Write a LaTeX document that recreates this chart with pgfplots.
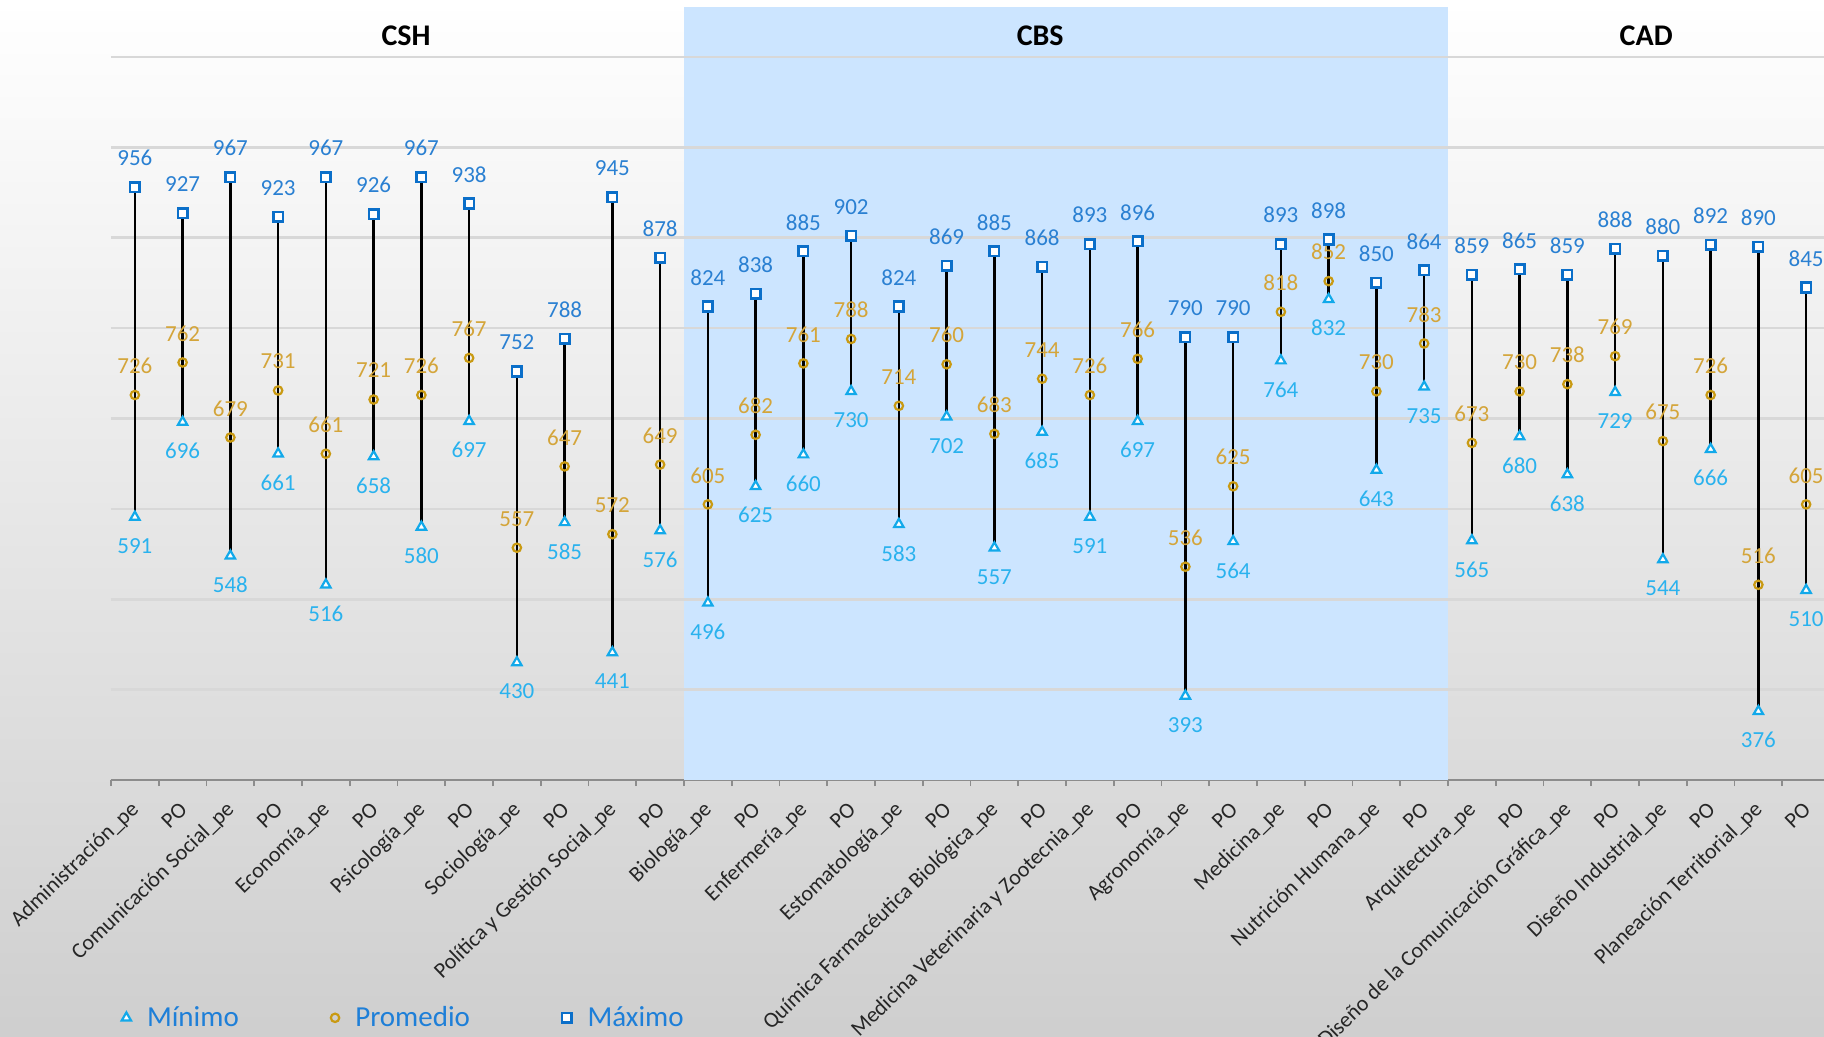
\documentclass[border=0pt]{standalone}
\usepackage{fontspec}
\setmainfont{Carlito}
\usepackage{pgfplots}
\usepackage{pgfplotstable}
\pgfplotsset{compat=1.18}
\usetikzlibrary{backgrounds}

\definecolor{minc}{HTML}{12A9EA}
\definecolor{avgc}{HTML}{C99A12}
\definecolor{maxc}{HTML}{0B6FC9}
\definecolor{minlab}{HTML}{2AB2EE}
\definecolor{avglab}{HTML}{D4A53A}
\definecolor{maxlab}{HTML}{2A80D2}
\definecolor{legtxt}{HTML}{1E7FD8}
\definecolor{cbs}{HTML}{CCE5FF}
\definecolor{gridc}{HTML}{D8D8D8}
\definecolor{axisc}{HTML}{8C8C8C}

\newcommand{\lab}{\fontsize{11.5}{13}\selectfont}

% x = posicion, min / promedio / max
\pgfplotstableread{
x min avg max
1 591 726 956
2 696 762 927
3 548 679 967
4 661 731 923
5 516 661 967
6 658 721 926
7 580 726 967
8 697 767 938
9 430 557 752
10 585 647 788
11 441 572 945
12 576 649 878
13 496 605 824
14 625 682 838
15 660 761 885
16 730 788 902
17 583 714 824
18 702 760 869
19 557 683 885
20 685 744 868
21 591 726 893
22 697 766 896
23 393 536 790
24 564 625 790
25 764 818 893
26 832 852 898
27 643 730 850
28 735 783 864
29 565 673 859
30 680 730 865
31 638 738 859
32 729 769 888
33 544 675 880
34 666 726 892
35 376 516 890
36 510 605 845
}\datos

\begin{document}
\begin{tikzpicture}
\begin{axis}[
name=ax,
scale only axis,
width=859.5pt, height=388.6pt,
xmin=0.5, xmax=36.5, ymin=300, ymax=1160,
clip=false,
axis x line*=bottom,
hide y axis,
x axis line style={axisc, line width=1pt},
xtick={1,...,36},
major tick length=0pt,
minor xtick={0.5,1.5,...,36.5},
minor tick length=3pt,
tick align=outside,
minor tick style={axisc, line width=0.9pt},
xticklabels={Administración\_pe, PO, Comunicación Social\_pe, PO, Economía\_pe, PO, Psicología\_pe, PO, Sociología\_pe, PO, Política y Gestión Social\_pe, PO, Biología\_pe, PO, Enfermería\_pe, PO, Estomatología\_pe, PO, Química Farmacéutica Biológica\_pe, PO, Medicina Veterinaria y Zootecnia\_pe, PO, Agronomía\_pe, PO, Medicina\_pe, PO, Nutrición Humana\_pe, PO, Arquitectura\_pe, PO, Diseño de la Comunicación Gráfica\_pe, PO, Diseño Industrial\_pe, PO, Planeación Territorial\_pe, PO},
xticklabel style={font=\fontsize{11}{12}\selectfont, text=black!85, anchor=east, inner sep=0pt, xshift=0.5pt, yshift=-13pt, rotate=44},
/pgf/number format/assume math mode=true,
legend columns=3,
legend style={draw=none, fill=none, inner sep=0pt, at={(axis description cs:0.006,-0.306)}, anchor=west, font=\fontsize{14.5}{16}\selectfont, text=legtxt,
  /tikz/every odd column/.append style={column sep=6pt},
  /tikz/every even column/.append style={column sep=44pt}},
legend image code/.code={\draw[#1] plot coordinates {(0pt,0pt)};},
]
% zona CBS
\fill[cbs] (axis cs:12.5,300) rectangle (axis cs:28.5,1155);
\pgfplotsinvokeforeach{400,500,600,700,800,900,1000,1100}{
  \draw[gridc, line width=1.3pt] (axis cs:0.5,#1) -- (axis cs:36.5,#1);
}
% lineas min-max
\addplot[only marks, mark=none, forget plot,
  error bars/.cd, y dir=minus, y explicit, error mark=none,
  error bar style={draw=black, line width=1.2pt}]
  table[x=x, y=max, y error expr=\thisrow{max}-\thisrow{min}]{\datos};
\addplot[only marks, mark=triangle*, mark size=2.7pt, draw=minc, fill=white, line width=1.1pt,
  nodes near coords, nodes near coords style={font=\lab, text=minlab, anchor=center, yshift=-14.5pt}]
  table[x=x, y=min]{\datos};
\addlegendentry{Mínimo}
\addplot[only marks, mark=o, mark size=2.1pt, draw=avgc, line width=1.1pt,
  nodes near coords, nodes near coords style={font=\lab, text=avglab, anchor=center, yshift=14.5pt}]
  table[x=x, y=avg]{\datos};
\addlegendentry{Promedio}
\addplot[only marks, mark=square*, mark size=2.4pt, draw=maxc, fill=white, line width=1.3pt,
  nodes near coords, nodes near coords style={font=\lab, text=maxlab, anchor=center, yshift=14.5pt}]
  table[x=x, y=max]{\datos};
\addlegendentry{Máximo}
\node[font=\bfseries\fontsize{15}{18}\selectfont] at (axis cs:6.68,1124) {CSH};
\node[font=\bfseries\fontsize{15}{18}\selectfont] at (axis cs:19.96,1124) {CBS};
\node[font=\bfseries\fontsize{15}{18}\selectfont] at (axis cs:32.65,1124) {CAD};
\end{axis}
\begin{scope}[on background layer]
\shade[top color=white, bottom color=black!19] (ax.south west) ++(-55.5pt,-128.5pt) rectangle ++(912pt,518.5pt);
\end{scope}
\pgfresetboundingbox
\path[use as bounding box] (ax.south west) ++(-55.5pt,-128.5pt) rectangle ++(912pt,518.5pt);
\end{tikzpicture}
\end{document}
